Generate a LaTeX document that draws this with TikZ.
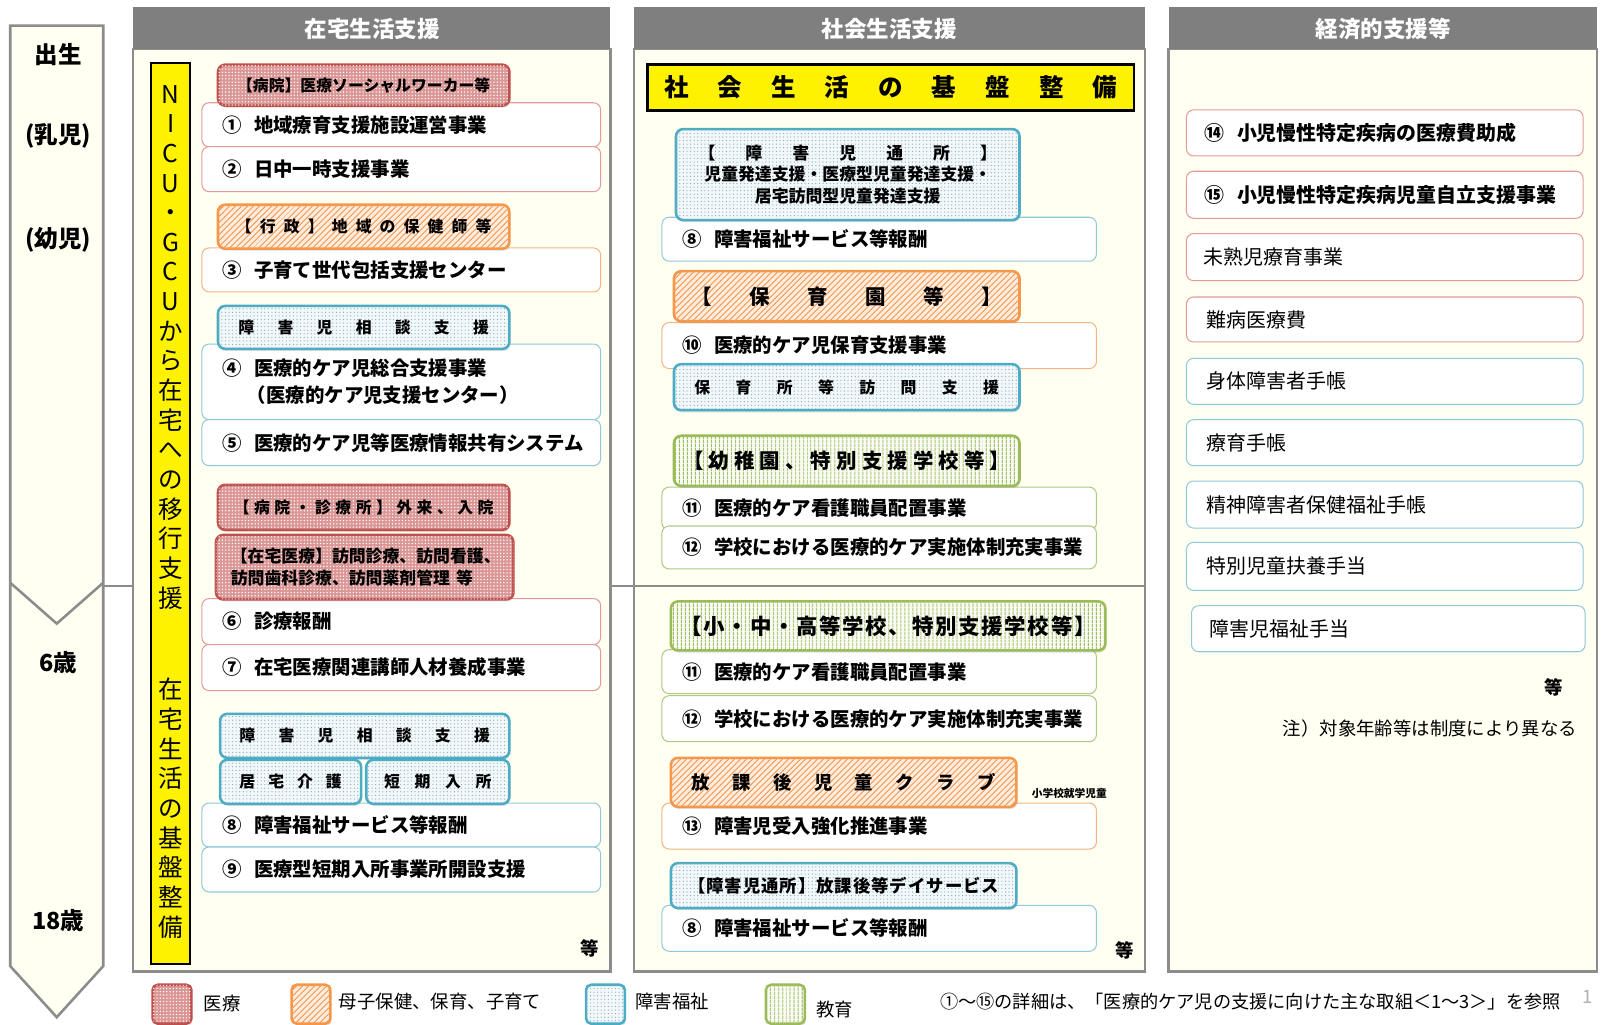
\documentclass[tikz,border=0pt]{standalone}
\usepackage{fontspec}
\setmainfont{Noto Sans CJK JP}
\usetikzlibrary{patterns,patterns.meta,shadows}
\definecolor{redD}{HTML}{C0504D}
\definecolor{redF}{HTML}{DB9796}
\definecolor{redL}{HTML}{E39A9A}
\definecolor{orD}{HTML}{F79646}
\definecolor{orF}{HTML}{FDEBDC}
\definecolor{orH}{HTML}{F3A060}
\definecolor{orL}{HTML}{F5B483}
\definecolor{blD}{HTML}{4BACC6}
\definecolor{blF}{HTML}{F0F8FB}
\definecolor{blH}{HTML}{8FA5AD}
\definecolor{blL}{HTML}{8FCADA}
\definecolor{grD}{HTML}{9BBB59}
\definecolor{grF}{HTML}{FAFCF5}
\definecolor{grL}{HTML}{AFC884}
\definecolor{cream}{HTML}{FFFFF2}
\definecolor{hdr}{HTML}{7F7F7F}
\definecolor{pbord}{HTML}{8C8C8C}
\newcommand\HF{\hfill}
\newcommand\itemf{\fontsize{19}{23}\selectfont\bfseries}
\newcommand\itemg{\fontsize{19.5}{23}\selectfont\bfseries}
\newcommand\itemh{\fontsize{19.5}{23}\selectfont}
\newcommand\tagf{\fontsize{15.5}{19}\selectfont\bfseries}
\tikzset{
  item/.style={draw=#1, fill=white, rounded corners=7pt, line width=1pt, anchor=north west,
    align=left, inner xsep=0pt, inner ysep=0pt, font=\itemf},
  tagbase/.style={line width=2.5pt, rounded corners=7pt, anchor=north west, inner sep=0pt,
    align=center, drop shadow={opacity=0.25, shadow xshift=1pt, shadow yshift=-2pt}},
  tagR/.style={tagbase, draw=redD, fill=redF, postaction={pattern={Dots[distance=3.2pt, radius=0.75pt]}, pattern color=white}},
  tagO/.style={tagbase, draw=orD, fill=orF, postaction={pattern={Lines[angle=45, distance=4pt, line width=1.1pt]}, pattern color=orH}},
  tagB/.style={tagbase, draw=blD, fill=blF, postaction={pattern={Dots[distance=3.5pt, radius=0.6pt]}, pattern color=blH}},
  tagG/.style={tagbase, draw=grD, fill=grF, postaction={pattern={Lines[angle=90, distance=4pt, line width=1.3pt]}, pattern color=grD}},
  hdrtext/.style={text=white, font=\fontsize{22}{26}\selectfont\bfseries},
  agetext/.style={font=\fontsize{23}{27}\selectfont\bfseries},
  legtext/.style={anchor=west, font=\fontsize{18}{22}\selectfont},
  etc/.style={font=\fontsize{18}{22}\selectfont\bfseries},
}
\begin{document}
\begin{tikzpicture}[x=1pt,y=-1pt]
\useasboundingbox (0,0) rectangle (1568,1002);
\fill[white] (0,0) rectangle (1568,1002);

% panel 2 body, then dividing line, then panel 1 on top
\draw[fill=cream, draw=pbord, line width=2.5pt] (620,48) rectangle (1120,950);
\fill[hdr] (620,7) rectangle (1120,48);
\draw[pbord, line width=2.5pt] (101,573) -- (1120,573);
\draw[fill=cream, draw=pbord, line width=2.5pt] (130,48) rectangle (597,950);
\fill[hdr] (130,7) rectangle (597,48);
\draw[fill=cream, draw=pbord, line width=2.5pt] (1143,48) rectangle (1562,950);
\fill[hdr] (1143,7) rectangle (1562,48);
\node[hdrtext] (h1) at (364,28) {在宅生活支援};
\node[hdrtext] (h2) at (870,28) {社会生活支援};
\node[hdrtext] (h3) at (1353,28) {経済的支援等};

% age arrow
\draw[fill=cream, draw=pbord, line width=2.5pt] (10,25) -- (101,25) -- (101,945) -- (55.5,995) -- (10,945) -- cycle;
\draw[pbord, line width=2.5pt] (10,570) -- (55.5,610) -- (101,570);
\node[agetext] (a1) at (57,53) {出生};
\node[agetext] (a2) at (57,133) {(乳児)};
\node[agetext] (a3) at (57,235) {(幼児)};
\node[agetext] (a4) at (57,648) {6歳};
\node[agetext] (a5) at (57,900) {18歳};

% yellow vertical bar
\draw[fill=yellow, line width=2pt] (148,62) rectangle (186,943);
\node[align=center, font=\fontsize{24}{29}\selectfont, inner sep=0pt] (v1) at (167,339.5)
  {N\\I\\C\\U\\・\\G\\C\\U\\か\\ら\\在\\宅\\へ\\の\\移\\行\\支\\援};
\node[align=center, font=\fontsize{24}{29}\selectfont, inner sep=0pt] (v2) at (167,790.5)
  {在\\宅\\生\\活\\の\\基\\盤\\整\\備};

% ---------- panel 1 items ----------
\node[item=redL, text width=390pt, minimum height=43pt] (p1) at (197,100) {\hspace*{20pt}①\hspace{12pt}地域療育支援施設運営事業};
\node[item=redL, text width=390pt, minimum height=44pt] (p2) at (197,143) {\hspace*{20pt}②\hspace{12pt}日中一時支援事業};
\node[item=orL, text width=390pt, minimum height=43pt] (p3) at (197,242) {\hspace*{20pt}③\hspace{12pt}子育て世代包括支援センター};
\node[item=blL, text width=390pt, minimum height=74pt] (p4) at (197,336) {\hspace*{20pt}④\hspace{12pt}医療的ケア児総合支援事業\\[4pt]\hspace*{44pt}（医療的ケア児支援センター）};
\node[item=blL, text width=390pt, minimum height=45pt] (p5) at (197,410) {\hspace*{20pt}⑤\hspace{12pt}医療的ケア児等医療情報共有システム};
\node[item=redL, text width=390pt, minimum height=45pt] (p6) at (197,585) {\hspace*{20pt}⑥\hspace{12pt}診療報酬};
\node[item=redL, text width=390pt, minimum height=45pt] (p7) at (197,630) {\hspace*{20pt}⑦\hspace{12pt}在宅医療関連講師人材養成事業};
\node[item=blL, text width=390pt, minimum height=43pt] (p8) at (197,785) {\hspace*{20pt}⑧\hspace{12pt}障害福祉サービス等報酬};
\node[item=blL, text width=390pt, minimum height=44pt] (p9) at (197,828) {\hspace*{20pt}⑨\hspace{12pt}医療型短期入所事業所開設支援};

% panel 1 tags
\node[tagR, minimum width=285pt, minimum height=40pt, font=\tagf] (t1) at (212,62) {\makebox[252pt]{【病院】医療ソーシャルワーカー等}};
\node[tagO, minimum width=285pt, minimum height=43pt, font=\tagf] (t2) at (212,199) {\makebox[250pt]{【\HF 行\HF 政\HF 】\HF 地\HF 域\HF の\HF 保\HF 健\HF 師\HF 等}};
\node[tagB, minimum width=285pt, minimum height=42pt, font=\tagf] (t3) at (212,298) {\makebox[245pt]{障\HF 害\HF 児\HF 相\HF 談\HF 支\HF 援}};
\node[tagR, minimum width=285pt, minimum height=44pt, font=\tagf] (t4) at (212,473) {\makebox[254pt]{【\HF 病\HF 院\HF ・\HF 診\HF 療\HF 所\HF 】\HF 外\HF 来\HF 、\HF 入\HF 院}};
\node[tagR, minimum width=291pt, minimum height=63pt, font=\fontsize{16.5}{21}\selectfont\bfseries] (t5) at (210,522) {\makebox[262pt][l]{【在宅医療】訪問診療、訪問看護、}\\\makebox[262pt][l]{訪問歯科診療、訪問薬剤管理\hspace{6pt}等}};
\node[tagB, minimum width=283pt, minimum height=43pt, font=\tagf] (t6) at (214,697) {\makebox[245pt]{障\HF 害\HF 児\HF 相\HF 談\HF 支\HF 援}};
\node[tagB, minimum width=138pt, minimum height=43pt, font=\tagf] (t7) at (214,742) {\makebox[100pt]{居\HF 宅\HF 介\HF 護}};
\node[tagB, minimum width=140pt, minimum height=43pt, font=\tagf] (t8) at (357,742) {\makebox[105pt]{短\HF 期\HF 入\HF 所}};
\node[etc] (e1) at (577,928) {等};

% ---------- panel 2 ----------
\node[draw, line width=2.5pt, fill=yellow, anchor=north west, minimum width=476pt, minimum height=45pt, inner sep=0pt,
  font=\fontsize{24}{28}\selectfont\bfseries] (y2) at (632,62) {\makebox[443pt]{社\HF 会\HF 生\HF 活\HF の\HF 基\HF 盤\HF 整\HF 備}};

\node[item=blL, text width=425pt, minimum height=43pt] (q1) at (647,212) {\hspace*{20pt}⑧\hspace{12pt}障害福祉サービス等報酬};
\node[item=orL, text width=425pt, minimum height=45pt] (q2) at (647,315) {\hspace*{20pt}⑩\hspace{12pt}医療的ケア児保育支援事業};
\node[item=grL, text width=425pt, minimum height=42pt] (q3) at (647,476) {\hspace*{20pt}⑪\hspace{12pt}医療的ケア看護職員配置事業};
\node[item=grL, text width=425pt, minimum height=42pt] (q4) at (647,514) {\hspace*{20pt}⑫\hspace{12pt}学校における医療的ケア実施体制充実事業};
\node[item=grL, text width=425pt, minimum height=43pt] (q5) at (647,635) {\hspace*{20pt}⑪\hspace{12pt}医療的ケア看護職員配置事業};
\node[item=grL, text width=425pt, minimum height=45pt] (q6) at (647,680) {\hspace*{20pt}⑫\hspace{12pt}学校における医療的ケア実施体制充実事業};
\node[item=orL, text width=425pt, minimum height=45pt] (q7) at (647,785) {\hspace*{20pt}⑬\hspace{12pt}障害児受入強化推進事業};
\node[item=blL, text width=425pt, minimum height=45pt] (q8) at (647,885) {\hspace*{20pt}⑧\hspace{12pt}障害福祉サービス等報酬};

\node[tagB, minimum width=336pt, minimum height=89pt, font=\fontsize{16.5}{21}\selectfont\bfseries] (u1) at (660,125)
  {\makebox[292pt]{【\HF 障\HF 害\HF 児\HF 通\HF 所\HF 】}\\児童発達支援・医療型児童発達支援・\\居宅訪問型児童発達支援};
\node[tagO, minimum width=338pt, minimum height=49pt, font=\fontsize{20}{24}\selectfont\bfseries] (u2) at (658,264) {\makebox[304pt]{【\HF 保\HF 育\HF 園\HF 等\HF 】}};
\node[tagB, minimum width=338pt, minimum height=45pt, font=\tagf] (u3) at (658,355) {\makebox[298pt]{保\HF 育\HF 所\HF 等\HF 訪\HF 問\HF 支\HF 援}};
\node[tagG, minimum width=338pt, minimum height=49pt, font=\fontsize{20}{24}\selectfont\bfseries] (u4) at (658,425) {\makebox[320pt]{【\HF 幼\HF 稚\HF 園\HF 、\HF 特\HF 別\HF 支\HF 援\HF 学\HF 校\HF 等\HF 】}};
\node[tagG, minimum width=425pt, minimum height=48pt, font=\fontsize{21}{25}\selectfont\bfseries] (u5) at (655,587) {\makebox[406pt]{【\HF 小\HF ・\HF 中\HF ・\HF 高\HF 等\HF 学\HF 校\HF 、\HF 特\HF 別\HF 支\HF 援\HF 学\HF 校\HF 等\HF 】}};
\node[tagO, minimum width=338pt, minimum height=48pt, font=\fontsize{18}{22}\selectfont\bfseries] (u6) at (655,740) {\makebox[298pt]{放\HF 課\HF 後\HF 児\HF 童\HF ク\HF ラ\HF ブ}};
\node[tagB, minimum width=338pt, minimum height=44pt, font=\fontsize{17}{21}\selectfont\bfseries] (u7) at (655,843) {\makebox[304pt]{【\HF 障\HF 害\HF 児\HF 通\HF 所\HF 】\HF 放\HF 課\HF 後\HF 等\HF デ\HF イ\HF サ\HF ー\HF ビ\HF ス}};
\node[font=\fontsize{10.5}{12}\selectfont\bfseries] (sm) at (1046,776) {小学校就学児童};
\node[etc] (e2) at (1100,930) {等};

% ---------- panel 3 ----------
\node[item=redL, text width=388pt, minimum height=45pt, font=\itemg] (r1) at (1160,107) {\hspace*{18pt}⑭\hspace{12pt}小児慢性特定疾病の医療費助成};
\node[item=redL, text width=388pt, minimum height=46pt, font=\itemg] (r2) at (1160,167) {\hspace*{18pt}⑮\hspace{12pt}小児慢性特定疾病児童自立支援事業};
\node[item=redL, text width=388pt, minimum height=46pt, font=\itemh] (r3) at (1160,228) {\hspace*{17pt}未熟児療育事業};
\node[item=redL, text width=388pt, minimum height=44pt, font=\itemh] (r4) at (1160,290) {\hspace*{20pt}難病医療費};
\node[item=blL, text width=388pt, minimum height=45pt, font=\itemh] (r5) at (1160,350) {\hspace*{20pt}身体障害者手帳};
\node[item=blL, text width=388pt, minimum height=45pt, font=\itemh] (r6) at (1160,410) {\hspace*{20pt}療育手帳};
\node[item=blL, text width=388pt, minimum height=46pt, font=\itemh] (r7) at (1160,470) {\hspace*{20pt}精神障害者保健福祉手帳};
\node[item=blL, text width=388pt, minimum height=47pt, font=\itemh] (r8) at (1160,530) {\hspace*{20pt}特別児童扶養手当};
\node[item=blL, text width=385pt, minimum height=45pt, font=\itemh] (r9) at (1165,592) {\hspace*{18pt}障害児福祉手当};
\node[etc] (e3) at (1520,672) {等};
\node[anchor=east, font=\fontsize{18}{22}\selectfont] (note) at (1546,713) {注）対象年齢等は制度により異なる};

% ---------- legend ----------
\node[tagR, rounded corners=5pt, minimum width=38pt, minimum height=38pt] (l1) at (148,962) {};
\node[legtext] (lt1) at (196,982) {医療};
\node[tagO, rounded corners=5pt, minimum width=38pt, minimum height=38pt] (l2) at (284,962) {};
\node[legtext] (lt2) at (328,980) {母子保健、保育、子育て};
\node[tagB, rounded corners=5pt, minimum width=38pt, minimum height=38pt] (l3) at (572,962) {};
\node[legtext] (lt3) at (618,980) {障害福祉};
\node[tagG, rounded corners=5pt, minimum width=38pt, minimum height=38pt] (l4) at (748,962) {};
\node[legtext] (lt4) at (795,987) {教育};
\node[anchor=west, font=\fontsize{17.8}{21}\selectfont] (fn) at (916,980) {①～⑮の詳細は、「医療的ケア児の支援に向けた主な取組＜1～3＞」を参照};
\node[text=gray!60, font=\fontsize{18}{22}\selectfont] (pg) at (1553,975) {1};
\end{tikzpicture}
\end{document}
